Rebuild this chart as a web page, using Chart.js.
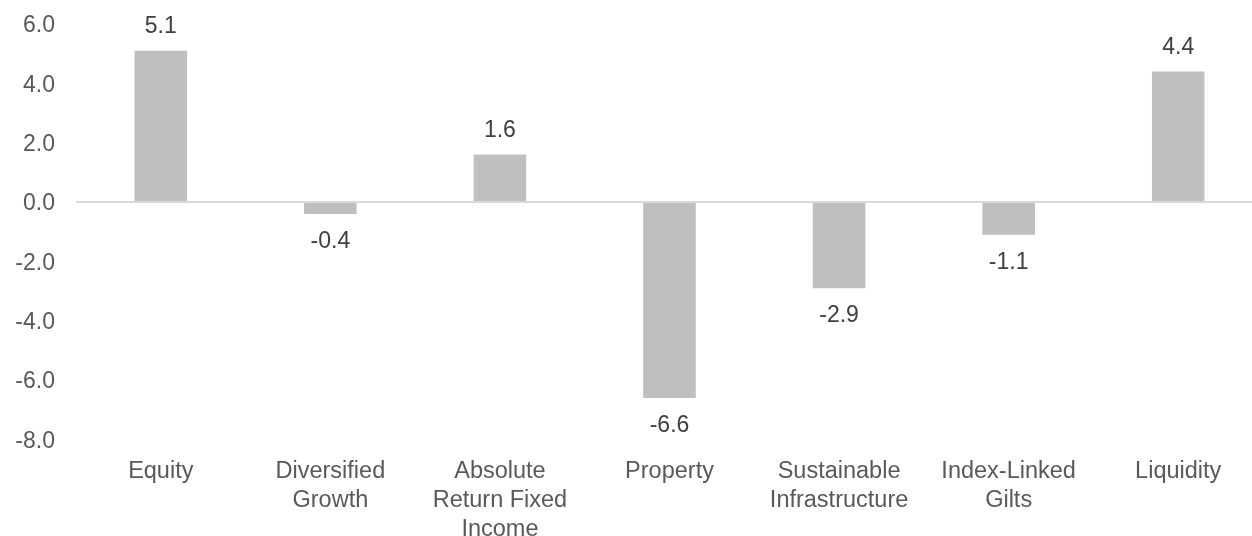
<!DOCTYPE html>
<html>
<head>
<meta charset="utf-8">
<script src="https://cdn.jsdelivr.net/npm/chart.js@4/dist/chart.umd.min.js"></script>
<style>
html,body{margin:0;padding:0;background:#fff;overflow:hidden;}
#wrap{width:1263px;height:536px;position:relative;}
</style>
</head>
<body>
<div id="wrap"><canvas id="c"></canvas></div>
<script>
const categories = [["Equity"], ["Diversified", "Growth"], ["Absolute", "Return Fixed", "Income"], ["Property"], ["Sustainable", "Infrastructure"], ["Index-Linked", "Gilts"], ["Liquidity"]];
const values = [5.1, -0.4, 1.6, -6.6, -2.9, -1.1, 4.4];
const yTicks = [-8, -6, -4, -2, 0, 2, 4, 6];

const FONT = "'Liberation Sans', Arial, sans-serif";

const dataLabels = {
  id: 'dataLabels',
  afterDatasetsDraw(chart) {
    const ctx = chart.ctx;
    const meta = chart.getDatasetMeta(0);
    ctx.save();
    ctx.font = "23px " + FONT;
    ctx.fillStyle = '#404040';
    ctx.textAlign = 'center';
    ctx.textBaseline = 'middle';
    meta.data.forEach((el, i) => {
      const v = values[i];
      const y = v >= 0 ? el.y - 24 : el.y + 28;
      ctx.fillText(v.toFixed(1), el.x, y);
    });
    ctx.restore();
  }
};

new Chart(document.getElementById('c'), {
  type: 'bar',
  data: {
    labels: categories,
    datasets: [{
      data: values,
      backgroundColor: '#bfbfbf',
      borderWidth: 0,
      barPercentage: 0.31,
      categoryPercentage: 1.0
    }]
  },
  options: {
    responsive: true,
    maintainAspectRatio: false,
    animation: false,
    layout: { padding: { top: 24, right: 0, left: 0, bottom: 0 } },
    plugins: { legend: { display: false }, tooltip: { enabled: false } },
    scales: {
      x: {
        grid: { display: false, drawTicks: false },
        border: { display: false },
        ticks: {
          color: '#595959',
          font: { family: FONT, size: 23.5, lineHeight: 1.24 },
          padding: 17,
          maxRotation: 0,
          autoSkip: false
        },
        afterFit(scale) { scale.height = 96.5; }
      },
      y: {
        min: -8,
        max: 6,
        afterBuildTicks(scale) { scale.ticks = yTicks.map(v => ({ value: v })); },
        grid: {
          drawTicks: false,
          lineWidth: (c) => (c.tick && c.tick.value === 0 ? 2 : 0),
          color: (c) => (c.tick && c.tick.value === 0 ? '#d9d9d9' : 'rgba(0,0,0,0)')
        },
        border: { display: false },
        ticks: {
          color: '#595959',
          font: { family: FONT, size: 23 },
          padding: 21,
          labelOffset: 2,
          callback: (v) => Number(v).toFixed(1)
        },
        afterFit(scale) { scale.width = 76; scale.paddingTop = 0; scale.paddingBottom = 0; }
      }
    }
  },
  plugins: [dataLabels]
});
</script>
</body>
</html>
